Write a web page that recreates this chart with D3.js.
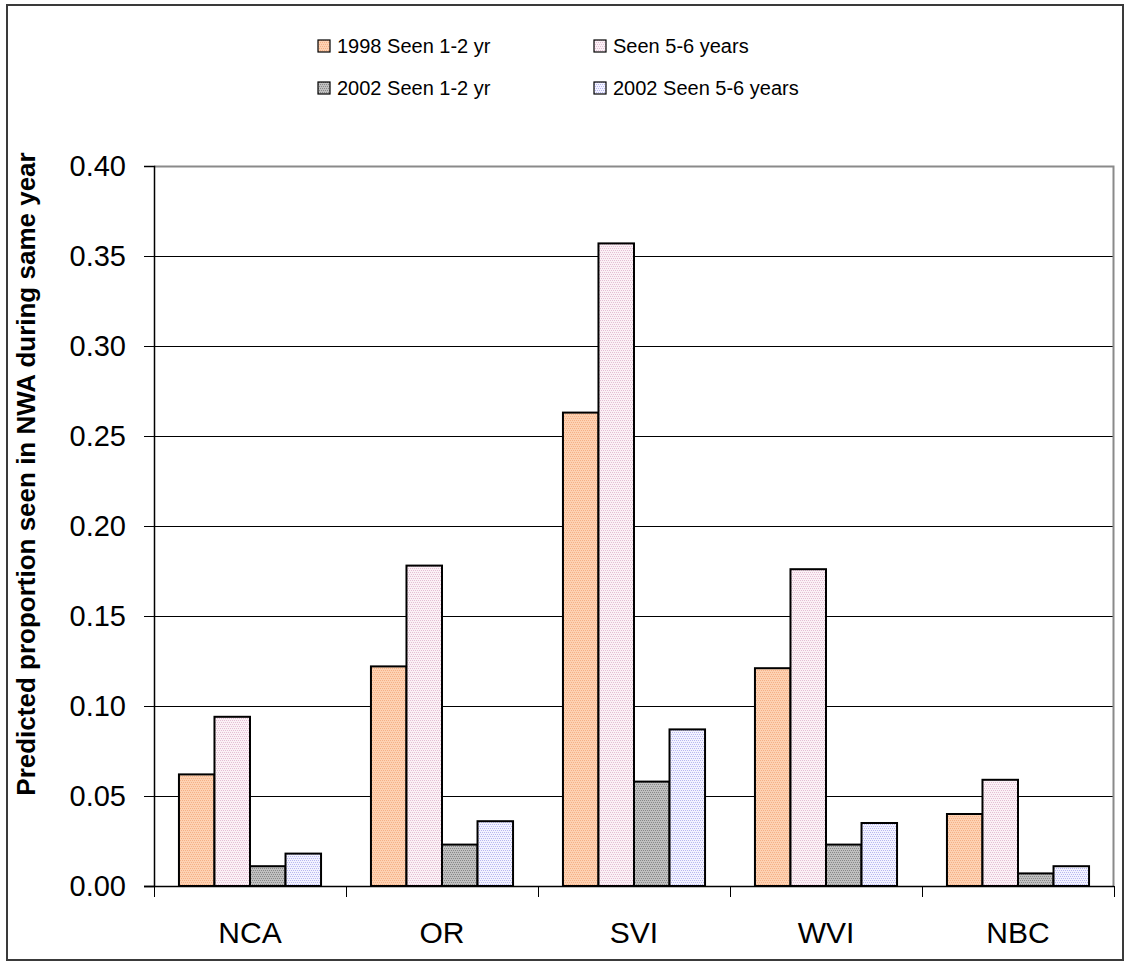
<!DOCTYPE html>
<html>
<head>
<meta charset="utf-8">
<script src="https://cdn.jsdelivr.net/npm/d3@7"></script>
<style>
  body { margin: 0; background: #fff; }
  svg { display: block; }
  text { font-family: Arial, "Liberation Sans", sans-serif; fill: #000; }
</style>
</head>
<body>
<svg id="chart" width="1130" height="976"></svg>
<script>
// Regions and series
const categories = ["NCA", "OR", "SVI", "WVI", "NBC"];
const seriesNames = ["1998 Seen 1-2 yr", "Seen 5-6 years", "2002 Seen 1-2 yr", "2002 Seen 5-6 years"];

// Predicted proportions per region
const seen1998_1to2 = [0.062, 0.122, 0.263, 0.121, 0.040];
const seen1998_5to6 = [0.094, 0.178, 0.357, 0.176, 0.059];
const seen2002_1to2 = [0.011, 0.023, 0.058, 0.023, 0.007];
const seen2002_5to6 = [0.018, 0.036, 0.087, 0.035, 0.011];

const yTickValues = [0.00, 0.05, 0.10, 0.15, 0.20, 0.25, 0.30, 0.35, 0.40];
const yTitle = "Predicted proportion seen in NWA during same year";

const seriesValues = [seen1998_1to2, seen1998_5to6, seen2002_1to2, seen2002_5to6];

const svg = d3.select("#chart");
const plot = { left: 154, right: 1114, top: 166, bottom: 886 };

// Textured fills (dithered look)
const patterns = [
  { id: "p0", base: "#fdd2b3", dot: "#f5b086" },
  { id: "p1", base: "#fbf1f6", dot: "#e4bfd4" },
  { id: "p2", base: "#c0c0c0", dot: "#888888" },
  { id: "p3", base: "#f3f3ff", dot: "#b8b8f0" }
];
const defs = svg.append("defs");
patterns.forEach(p => {
  const pat = defs.append("pattern")
    .attr("id", p.id).attr("patternUnits", "userSpaceOnUse")
    .attr("width", 4).attr("height", 4);
  pat.append("rect").attr("width", 4).attr("height", 4).attr("fill", p.base);
  [[0, 0], [2, 0], [1, 2], [3, 2]].forEach(([x, y]) =>
    pat.append("rect").attr("x", x).attr("y", y).attr("width", 1).attr("height", 1).attr("fill", p.dot));
});

// Outer frame
svg.append("rect")
  .attr("x", 7).attr("y", 5).attr("width", 1116).attr("height", 955)
  .attr("fill", "none").attr("stroke", "#3a3a3a").attr("stroke-width", 2);

// Scales
const x0 = d3.scaleBand().domain(categories).range([plot.left, plot.right]).padding(0);
const groupW = x0.bandwidth();
const x1 = d3.scaleBand().domain(seriesNames)
  .range([groupW * 0.13, groupW * 0.87]).padding(0);
const y = d3.scaleLinear().domain([0, 0.40]).range([plot.bottom, plot.top]);

// Gridlines
svg.append("g")
  .selectAll("line")
  .data(yTickValues.filter(v => v > 0 && v < 0.40))
  .join("line")
  .attr("x1", plot.left).attr("x2", plot.right)
  .attr("y1", d => Math.round(y(d)) + 0.5).attr("y2", d => Math.round(y(d)) + 0.5)
  .attr("stroke", "#000").attr("stroke-width", 1);

// Plot area border (top and right)
svg.append("path")
  .attr("d", `M${plot.left},${plot.top + 0.5}H${plot.right - 0.5}V${plot.bottom}`)
  .attr("fill", "none").attr("stroke", "#8a8a8a").attr("stroke-width", 2);

// Bars
const bars = svg.append("g");
seriesNames.forEach((s, si) => {
  bars.append("g")
    .selectAll("rect")
    .data(categories.map((c, ci) => ({ c, v: seriesValues[si][ci] })))
    .join("rect")
    .attr("x", d => x0(d.c) + x1(s))
    .attr("y", d => y(d.v))
    .attr("width", x1.bandwidth())
    .attr("height", d => y(0) - y(d.v))
    .attr("fill", `url(#${patterns[si].id})`)
    .attr("stroke", "#000").attr("stroke-width", 2);
});

// Y axis
const yAxis = d3.axisLeft(y).tickValues(yTickValues).tickFormat(d3.format(".2f"))
  .tickSize(10).tickPadding(18);
const yg = svg.append("g").attr("transform", `translate(${plot.left},0)`).call(yAxis);
yg.select(".domain").attr("stroke", "#000").attr("stroke-width", 1.5);
yg.selectAll(".tick line").attr("stroke", "#000");
yg.selectAll(".tick text").style("font-size", "29px").style("font-family", "Arial, 'Liberation Sans', sans-serif").attr("fill", "#000");

// X axis with ticks at group boundaries
svg.append("line")
  .attr("x1", plot.left - 10).attr("x2", plot.right)
  .attr("y1", plot.bottom + 0.5).attr("y2", plot.bottom + 0.5)
  .attr("stroke", "#000").attr("stroke-width", 1.5);
const bounds = categories.map(c => x0(c)).concat([plot.right]);
svg.append("g").selectAll("line").data(bounds).join("line")
  .attr("x1", d => Math.round(d) + 0.5).attr("x2", d => Math.round(d) + 0.5)
  .attr("y1", plot.bottom).attr("y2", plot.bottom + 11)
  .attr("stroke", "#000").attr("stroke-width", 1);
svg.append("g").selectAll("text").data(categories).join("text")
  .attr("x", d => x0(d) + groupW / 2)
  .attr("y", 943)
  .attr("text-anchor", "middle")
  .style("font-size", "30px")
  .text(d => d);

// Y axis title
svg.append("text")
  .attr("transform", `translate(35,474) rotate(-90)`)
  .attr("text-anchor", "middle")
  .style("font-size", "26px").style("font-weight", "bold")
  .text(yTitle);

// Legend
const legendPos = [
  { x: 318, y: 46 }, { x: 594, y: 46 },
  { x: 318, y: 88 }, { x: 594, y: 88 }
];
const lg = svg.append("g").selectAll("g").data(seriesNames).join("g")
  .attr("transform", (d, i) => `translate(${legendPos[i].x},${legendPos[i].y})`);
lg.append("rect")
  .attr("x", 0).attr("y", -6).attr("width", 12).attr("height", 12)
  .attr("fill", (d, i) => `url(#${patterns[i].id})`)
  .attr("stroke", "#000").attr("stroke-width", 1.2);
lg.append("text")
  .attr("x", 19).attr("y", 7)
  .style("font-size", "20px")
  .text(d => d);
</script>
</body>
</html>
